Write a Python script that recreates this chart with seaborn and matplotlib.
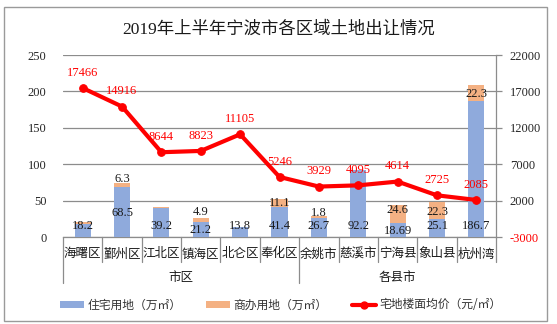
import matplotlib
matplotlib.use("Agg")
import matplotlib.pyplot as plt
import seaborn as sns
import numpy as np
import pandas as pd
from matplotlib.patches import Rectangle
from matplotlib.lines import Line2D
from matplotlib.patches import Patch

# ---------------- data ----------------
districts = ["海曙区", "鄞州区", "江北区", "镇海区", "北仑区", "奉化区",
             "余姚市", "慈溪市", "宁海县", "象山县", "杭州湾"]
groups = ["市区", "各县市"]
group_sizes = [6, 5]
residential = [18.2, 68.5, 39.2, 21.2, 13.8, 41.4, 26.7, 92.2, 18.69, 25.1, 186.7]
commercial = [2.0, 6.3, 2.5, 4.9, 0.0, 11.1, 1.8, 0.0, 24.6, 22.3, 22.3]
commercial_labels = ["", "6.3", "", "4.9", "", "11.1", "1.8", "", "24.6", "22.3", "22.3"]
price = [17466, 14916, 8644, 8823, 11105, 5246, 3929, 4095, 4614, 2725, 2085]

title = "2019年上半年宁波市各区域土地出让情况"
legend_labels = ["住宅用地（万㎡）", "商办用地（万㎡）", "宅地楼面均价（元/㎡）"]

# label placement (style only, in left-axis units)
res_label_y = [15, 33, 15, 9.6, 15, 15, 15, 15, 8, 15, 15]
com_label_y = [0, 80, 0, 34.3, 0, 46.7, 33, 0, 37, 34.3, 196.4]

# ---------------- style ----------------
BLUE = "#8FAADC"
ORANGE = "#F4B183"
RED = "#FF0000"
GRID = "#8C8C8C"
CJK = ["Noto Sans CJK SC", "DejaVu Sans"]
SERIF = ["Liberation Serif", "Noto Sans CJK SC", "DejaVu Sans"]

sns.set_theme(style="white")
plt.rcParams["font.family"] = SERIF

fig = plt.figure(figsize=(5.57, 3.24), dpi=100)
ax = fig.add_axes([63 / 557, 1 - 237 / 324, (496 - 63) / 557, (237 - 55) / 324])

df = pd.DataFrame({"district": districts,
                   "res": residential,
                   "total": np.array(residential) + np.array(commercial)})

sns.barplot(data=df, x="district", y="total", color=ORANGE, saturation=1,
            width=0.41, ax=ax, zorder=2, edgecolor="none")
sns.barplot(data=df, x="district", y="res", color=BLUE, saturation=1,
            width=0.41, ax=ax, zorder=3, edgecolor="none")

ax.set_ylim(0, 250)
ax.set_yticks(np.arange(0, 251, 50))
ax.set_xlim(-0.5, len(districts) - 0.5)
ax.set_xlabel("")
ax.set_ylabel("")
ax.set_xticks([])
ax.grid(axis="y", color=GRID, linewidth=0.9, zorder=0)
ax.set_axisbelow(True)
for s in ["left", "top", "right"]:
    ax.spines[s].set_visible(False)
ax.spines["bottom"].set_color(GRID)
ax.spines["bottom"].set_linewidth(0.9)
ax.tick_params(axis="y", length=0, pad=12, labelsize=9)
for t in ax.get_yticklabels():
    t.set_fontfamily(SERIF)

# bar labels
for i, v in enumerate(residential):
    ax.text(i, res_label_y[i], f"{v:g}", ha="center", va="center",
            fontsize=9, color="#1a1a1a", zorder=5, family=SERIF)
for i, lab in enumerate(commercial_labels):
    if lab:
        ax.text(i, com_label_y[i], lab, ha="center", va="center",
                fontsize=9, color="#1a1a1a", zorder=5, family=SERIF)

# multi-level category axis
xt = ax.get_xaxis_transform()
n = len(districts)
boundaries = [-0.5]
acc = -0.5
for g in group_sizes:
    acc += g
    boundaries.append(acc)
for k in range(n + 1):
    xb = k - 0.5
    y_end = -0.137
    if xb in boundaries[:-1]:
        y_end = -0.253
    ax.plot([xb, xb], [0, y_end], transform=xt, color=GRID, linewidth=0.9,
            clip_on=False)
for i, d in enumerate(districts):
    ax.text(i, -0.093, d, transform=xt, ha="center", va="center",
            fontsize=9, family=CJK, color="#1a1a1a")
start = 0
for g, sz in zip(groups, group_sizes):
    ax.text(start + (sz - 1) / 2, -0.22, g, transform=xt, ha="center",
            va="center", fontsize=9, family=CJK, color="#1a1a1a")
    start += sz

# line on secondary axis
ax2 = ax.twinx()
sns.lineplot(x=np.arange(n), y=price, ax=ax2, color=RED, linewidth=3,
             marker="o", markersize=5.5, markeredgecolor=RED, sort=False,
             zorder=6)
ax2.set_xlim(-0.5, n - 0.5)
ax2.set_ylim(-3000, 22000)
ax2.set_yticks(np.arange(-3000, 22001, 5000))
ax2.set_yticklabels([f"{int(v)}" for v in np.arange(-3000, 22001, 5000)])
ax2.set_ylabel("")
for s in ["left", "top", "bottom"]:
    ax2.spines[s].set_visible(False)
ax2.spines["right"].set_color(GRID)
ax2.spines["right"].set_linewidth(0.9)
ax2.tick_params(axis="y", direction="out", length=4, width=0.9, color=GRID,
                pad=6, labelsize=9)
for t, v in zip(ax2.get_yticklabels(), ax2.get_yticks()):
    t.set_fontfamily(SERIF)
    if v < 0:
        t.set_color(RED)

for i, p in enumerate(price):
    ax2.annotate(f"{p}", (i, p), xytext=(0, 11), textcoords="offset points",
                 ha="center", va="center", fontsize=9, color=RED,
                 family=SERIF, zorder=7)

# title
fig.text(0.5, 1 - 30 / 324, title, ha="center", va="center", fontsize=12.5,
         family=SERIF, color="#1a1a1a")

# legend
handles = [Patch(facecolor=BLUE, edgecolor="none"),
           Patch(facecolor=ORANGE, edgecolor="none"),
           Line2D([0], [0], color=RED, linewidth=3, marker="o", markersize=5)]
leg = fig.legend(handles, legend_labels, loc="center", ncol=3,
                 bbox_to_anchor=(281 / 557, 1 - 305 / 324), frameon=False,
                 prop={"family": CJK, "size": 8.5}, handlelength=2.0,
                 handleheight=0.6, columnspacing=2.1, handletextpad=0.3)
for t in leg.get_texts():
    t.set_color("#333333")

# outer frame
fig.patches.append(Rectangle((4 / 557, 1 - 321 / 324), 543 / 557, 314 / 324,
                             transform=fig.transFigure, fill=False,
                             edgecolor="#9a9a9a", linewidth=1))

fig.savefig("out.png", dpi=100)
